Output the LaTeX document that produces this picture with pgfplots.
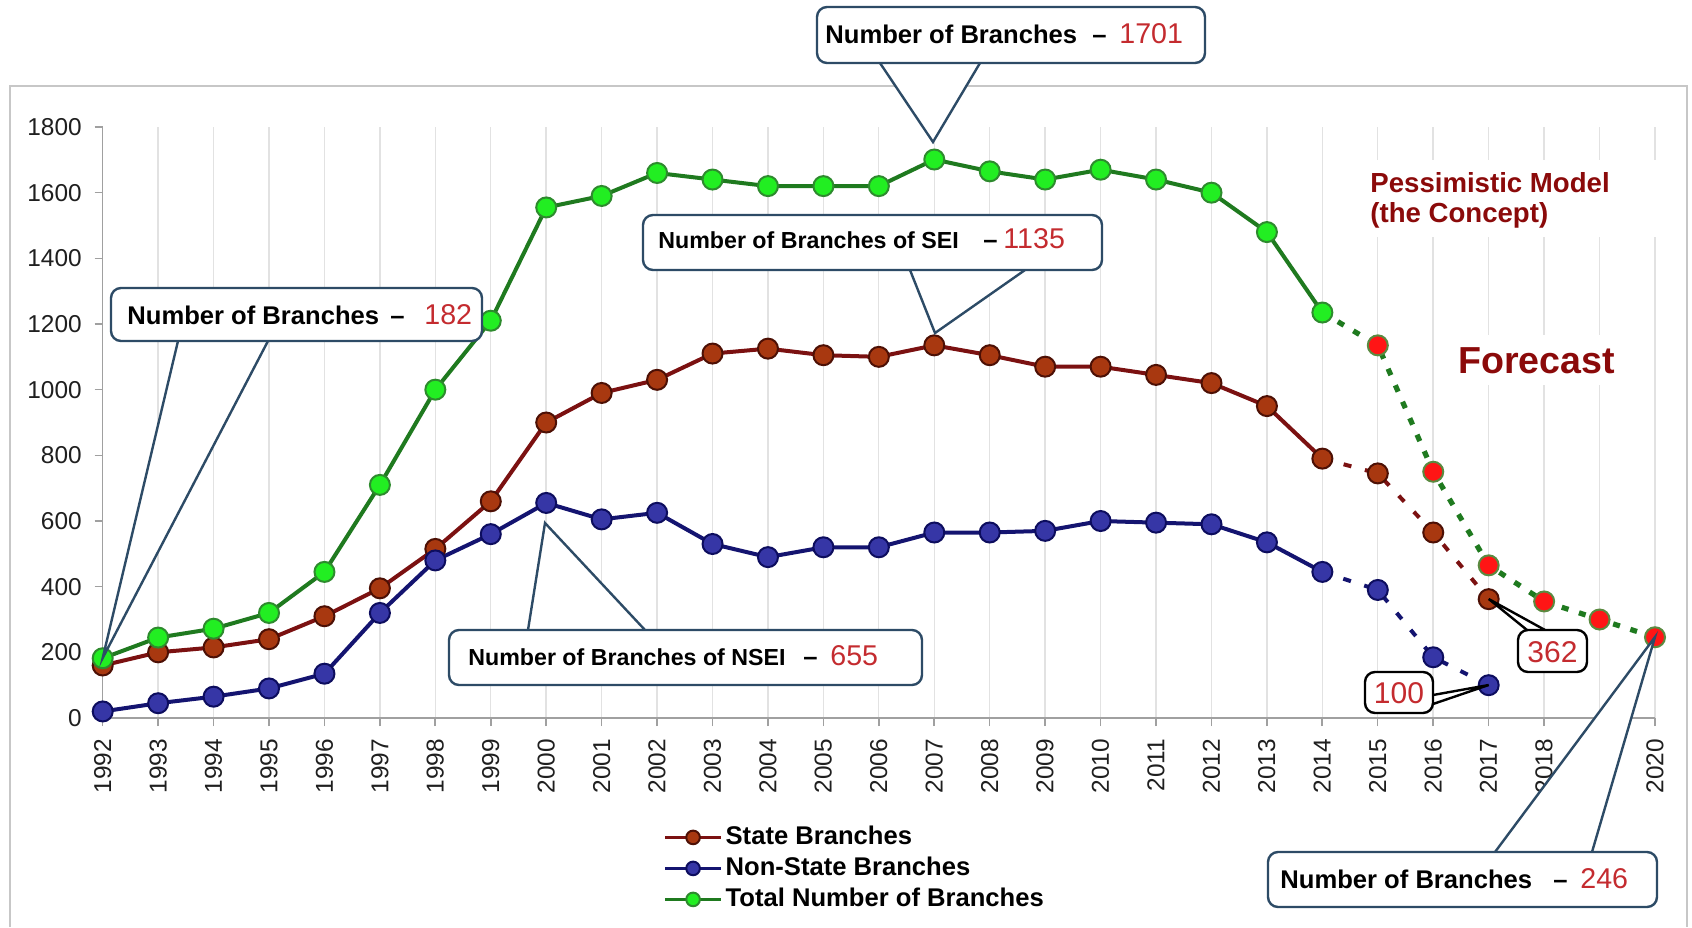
\documentclass[border=0pt]{standalone}
\usepackage{pgfplots}
\pgfplotsset{compat=1.18}
\usepackage{fontspec}
\setmainfont{Liberation Sans}
\definecolor{gline}{HTML}{1F7A1F}
\definecolor{gfill}{HTML}{22EE22}
\definecolor{gedge}{HTML}{2E8B2E}
\definecolor{rline}{HTML}{7B1111}
\definecolor{rfill}{HTML}{A83810}
\definecolor{redge}{HTML}{4D1005}
\definecolor{bline}{HTML}{141470}
\definecolor{bfill}{HTML}{3636A6}
\definecolor{bedge}{HTML}{0D0D5E}
\definecolor{ffill}{HTML}{FF1515}
\definecolor{fedge}{HTML}{5A8A40}
\definecolor{cborder}{HTML}{2D4B66}
\definecolor{numred}{HTML}{C42B2F}
\definecolor{darkred}{HTML}{8B0A0A}
\definecolor{axisgray}{HTML}{A0A0A0}
\definecolor{gridgray}{HTML}{E2E2E2}
\begin{document}
\begin{tikzpicture}
\begin{scope}[x=0.5pt,y=-0.5pt]
\path[use as bounding box, fill=white] (0,0) rectangle (1692,927);
\draw[black!22, line width=1pt] (10,927) -- (10,86) -- (1687,86) -- (1687,927);
\end{scope}
\begin{axis}[
  at={(51.35pt,-359pt)}, anchor=south west,
  scale only axis, width=776.15pt, height=295.5pt,
  xmin=1992, xmax=2020, ymin=0, ymax=1800,
  enlargelimits=false, clip=false,
  axis x line*=bottom, axis y line*=left,
  axis line style={draw=axisgray, line width=0.8pt},
  xtick={1992,...,2020}, ytick={0,200,...,1800},
  /pgf/number format/1000 sep={},
  /pgf/number format/assume math mode=true,
  tick label style={font=\fontsize{12.2}{14}\selectfont, color=black!88},
  xticklabel style={rotate=90, anchor=east},
  xticklabel shift=3pt, yticklabel shift=3pt,
  xmajorgrids, grid style={draw=gridgray, line width=0.7pt},
  tick align=outside, major tick length=4pt,
  tick style={draw=axisgray, line width=0.8pt},
  legend style={at={(0.361,-0.176)}, anchor=north west, draw=none, fill=none,
    font=\fontsize{12.8}{14}\selectfont\bfseries, inner sep=0pt, row sep=0.5pt,
    nodes={inner sep=1.5pt, text height=9.5pt, text depth=2.5pt}},
  legend cell align=left,
  legend image code/.code={\draw[mark repeat=2,mark phase=2,#1,mark size=3.4pt,line width=1.6pt] plot coordinates {(0pt,0pt) (14pt,0pt) (28pt,0pt)};},
]
% State branches
\addplot[rline, line width=2pt, mark=*, mark size=5pt,
  mark options={fill=rfill, draw=redge, line width=1pt}] coordinates {
(1992,160) (1993,200) (1994,215) (1995,240) (1996,310) (1997,395) (1998,515)
(1999,660) (2000,900) (2001,990) (2002,1030) (2003,1110) (2004,1125) (2005,1105)
(2006,1100) (2007,1135) (2008,1105) (2009,1070) (2010,1070) (2011,1045)
(2012,1020) (2013,950) (2014,790)};
\addlegendentry{State Branches}
% Non-state branches
\addplot[bline, line width=2pt, mark=*, mark size=5pt,
  mark options={fill=bfill, draw=bedge, line width=1pt}] coordinates {
(1992,20) (1993,45) (1994,65) (1995,90) (1996,135) (1997,320) (1998,480)
(1999,560) (2000,655) (2001,605) (2002,625) (2003,530) (2004,490) (2005,520)
(2006,520) (2007,565) (2008,565) (2009,570) (2010,600) (2011,595) (2012,590)
(2013,535) (2014,445)};
\addlegendentry{Non-State Branches}
% Total
\addplot[gline, line width=2pt, mark=*, mark size=5pt,
  mark options={fill=gfill, draw=gedge, line width=1pt}] coordinates {
(1992,182) (1993,245) (1994,272) (1995,320) (1996,445) (1997,710) (1998,1000)
(1999,1210) (2000,1555) (2001,1590) (2002,1660) (2003,1640) (2004,1620)
(2005,1620) (2006,1620) (2007,1701) (2008,1665) (2009,1640) (2010,1670)
(2011,1640) (2012,1600) (2013,1480) (2014,1235)};
\addlegendentry{Total Number of Branches}
% Forecasts
\addplot[rline, line width=2pt, dash pattern=on 4pt off 7pt, mark=*, mark size=5pt,
  mark indices={2,3,4},
  mark options={solid, fill=rfill, draw=redge, line width=1pt}, forget plot] coordinates {
(2014,790) (2015,745) (2016,565) (2017,362)};
\addplot[bline, line width=2pt, dash pattern=on 4pt off 7pt, mark=*, mark size=5pt,
  mark indices={2,3,4},
  mark options={solid, fill=bfill, draw=bedge, line width=1pt}, forget plot] coordinates {
(2014,445) (2015,390) (2016,185) (2017,100)};
\addplot[gline, line width=2.6pt, dash pattern=on 3.5pt off 5.5pt, mark=*, mark size=5pt,
  mark indices={2,3,4,5,6,7},
  mark options={solid, fill=ffill, draw=fedge, line width=1pt}, forget plot] coordinates {
(2014,1235) (2015,1135) (2016,750) (2017,465) (2018,355) (2019,300) (2020,246)};
\end{axis}
\begin{scope}[x=0.5pt,y=-0.5pt, every node/.style={inner sep=0pt}]
% text panels
\fill[white] (1330,160) rectangle (1665,237);
\node[anchor=base west, text=darkred, font=\fontsize{13.8}{15}\selectfont\bfseries] at (1370,192) {Pessimistic Model};
\node[anchor=base west, text=darkred, font=\fontsize{13.8}{15}\selectfont\bfseries] at (1370,222) {(the Concept)};
\fill[white] (1440,335) rectangle (1640,385);
\node[anchor=base west, text=darkred, font=\fontsize{18.8}{20}\selectfont\bfseries] at (1458,373) {Forecast};
% callout 182
\fill[white] (178,341) -- (102.7,658) -- (268,341) -- cycle;
\draw[cborder, line width=1.2pt] (178,341) -- (102.7,658) -- (268,341);
\filldraw[fill=white, draw=cborder, line width=1.2pt, rounded corners=5pt] (111,288) rectangle (482,341);
\node[anchor=base west, font=\fontsize{12.8}{14}\selectfont\bfseries] at (127,324) {Number of Branches};
\node[anchor=base west, font=\fontsize{12.8}{14}\selectfont\bfseries] at (390,324) {–};
\node[anchor=base west, text=numred, font=\fontsize{14.3}{16}\selectfont] at (424,324) {182};
% callout 1701
\fill[white] (880,63) -- (933,142) -- (980,63) -- cycle;
\draw[cborder, line width=1.2pt] (880,63) -- (933,142) -- (980,63);
\filldraw[fill=white, draw=cborder, line width=1.2pt, rounded corners=5pt] (817,7) rectangle (1205,63);
\node[anchor=base west, font=\fontsize{12.8}{14}\selectfont\bfseries] at (825,43) {Number of Branches};
\node[anchor=base west, font=\fontsize{12.8}{14}\selectfont\bfseries] at (1092,43) {–};
\node[anchor=base west, text=numred, font=\fontsize{14.3}{16}\selectfont] at (1119,43) {1701};
% callout SEI 1135
\fill[white] (910,270) -- (935,333) -- (1025,270) -- cycle;
\draw[cborder, line width=1.2pt] (910,270) -- (935,333) -- (1025,270);
\filldraw[fill=white, draw=cborder, line width=1.2pt, rounded corners=5pt] (643,215) rectangle (1102,270);
\node[anchor=base west, font=\fontsize{11.6}{13}\selectfont\bfseries] at (658,248) {Number of Branches of SEI};
\node[anchor=base west, font=\fontsize{12.8}{14}\selectfont\bfseries] at (983,248) {–};
\node[anchor=base west, text=numred, font=\fontsize{14.3}{16}\selectfont] at (1003,248) {1135};
% callout NSEI 655
\fill[white] (528,630) -- (545,523) -- (645,630) -- cycle;
\draw[cborder, line width=1.2pt] (528,630) -- (545,523) -- (645,630);
\filldraw[fill=white, draw=cborder, line width=1.2pt, rounded corners=5pt] (449,630) rectangle (922,685);
\node[anchor=base west, font=\fontsize{11.6}{13}\selectfont\bfseries] at (468,665) {Number of Branches of NSEI};
\node[anchor=base west, font=\fontsize{12.8}{14}\selectfont\bfseries] at (803,665) {–};
\node[anchor=base west, text=numred, font=\fontsize{14.3}{16}\selectfont] at (830,665) {655};
% callout 246
\fill[white] (1495,852) -- (1655,637) -- (1592,852) -- cycle;
\draw[cborder, line width=1.2pt] (1495,852) -- (1655,637) -- (1592,852);
\filldraw[fill=white, draw=cborder, line width=1.2pt, rounded corners=5pt] (1268,852) rectangle (1657,907);
\node[anchor=base west, font=\fontsize{12.8}{14}\selectfont\bfseries] at (1280,888) {Number of Branches};
\node[anchor=base west, font=\fontsize{12.8}{14}\selectfont\bfseries] at (1553,888) {–};
\node[anchor=base west, text=numred, font=\fontsize{14.3}{16}\selectfont] at (1580,888) {246};
% callout 362
\fill[white] (1527,630) -- (1488.7,599) -- (1545,630) -- cycle;
\draw[black, line width=1.2pt] (1527,630) -- (1488.7,599) -- (1545,630);
\filldraw[fill=white, draw=black, line width=1.2pt, rounded corners=5pt] (1518,630) rectangle (1587,672);
\node[anchor=base, text=numred, font=\fontsize{15}{16}\selectfont] at (1552.5,662) {362};
% callout 100
\fill[white] (1433,695) -- (1488.7,685) -- (1433,704) -- cycle;
\draw[black, line width=1.2pt] (1433,695) -- (1488.7,685) -- (1433,704);
\filldraw[fill=white, draw=black, line width=1.2pt, rounded corners=5pt] (1365,672) rectangle (1433,713);
\node[anchor=base, text=numred, font=\fontsize{15}{16}\selectfont] at (1399,703) {100};
\end{scope}
\end{tikzpicture}
\end{document}
